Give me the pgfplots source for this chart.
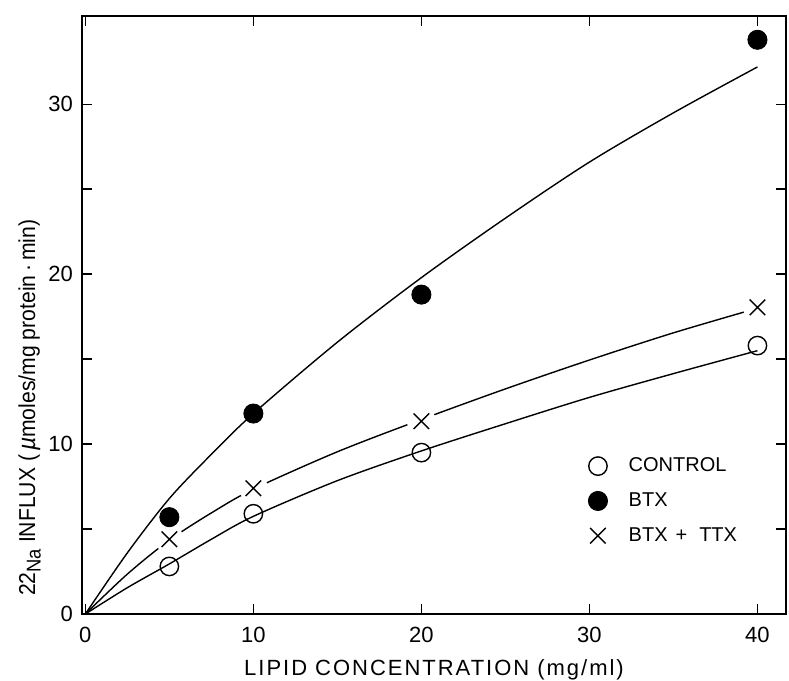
\documentclass[border=0pt]{standalone}
\usepackage{fontspec}
\setmainfont{Liberation Sans}
\newfontfamily\spaced[LetterSpace=9]{Liberation Sans}
\newfontfamily\narrow[FakeStretch=0.92]{Liberation Sans}
\usepackage{pgfplots}
\pgfplotsset{compat=1.18}
\usetikzlibrary{calc}

% measured points
\pgfplotstableread{
x   y
5   2.8
10  5.9
20  9.5
40  15.8
}\control
\pgfplotstableread{
x   y
5   5.7
10  11.8
20  18.8
40  33.8
}\btx
\pgfplotstableread{
x   y
5   4.4
10  7.4
20  11.35
40  18.05
}\btxttx

% fitted curves
\pgfplotstableread{
x    y
0    0
2.5  1.55
5    2.95
7.5  4.4
10   5.75
15   7.85
20   9.6
25   11.2
30   12.75
35   14.15
40   15.5
}\controlfit
\pgfplotstableread{
x    y
0    0
2.5  3.6
5    6.8
7.5  9.4
10   11.8
15   16.0
20   19.8
25   23.3
30   26.6
35   29.5
40   32.2
}\btxfit
\pgfplotstableread{
x    y
0    0
2.5  2.35
5    4.35
7.5  5.95
10   7.35
15   9.55
20   11.45
25   13.25
30   14.95
35   16.55
40   18.0
}\btxttxfit

\begin{document}
\begin{tikzpicture}
\begin{axis}[
  width=352pt, height=299pt, scale only axis,
  xmin=-0.2, xmax=41.7, ymin=0, ymax=35.2,
  xtick={0,10,20,30,40}, ytick={0,10,20,30},
  minor ytick={5,15,25},
  tick align=inside, tick pos=both,
  xticklabel pos=lower, yticklabel pos=left,
  major tick length=5pt, minor tick length=5pt,
  every tick/.style={black, line width=0.8pt},
  axis line style={line width=0.9pt},
  /pgf/number format/assume math mode=true,
  ticklabel style={font=\fontsize{11}{13}\selectfont},
  xticklabel style={yshift=-3pt},
  yticklabel style={xshift=-1pt},
  xlabel={\spaced\fontsize{11}{13}\selectfont LIPID CONCENTRATION (mg/ml)},
  ylabel={\narrow\fontsize{11.5}{13}\selectfont 22\raisebox{-0.45ex}{\fontsize{10}{11}\selectfont Na} INFLUX (\,{\fontsize{12.5}{13}\selectfont\itshape µ}moles/mg protein\,·\,min)},
  xlabel style={yshift=-1.5pt},
  ylabel style={at={(ticklabel cs:0.345)}, yshift=-3pt},
  legend style={at={(axis cs:29.28,9.7)}, anchor=north west, draw=none, fill=none,
    font=\fontsize{10}{12}\selectfont, row sep=5pt,
    cells={anchor=west}},
  legend cell align=left,
  legend image code/.code={\path[draw=none] (0,0) -- (0.72cm,0);\draw[#1] (0.25cm,0cm) plot coordinates {(0.25cm,0cm)};},
]
\coordinate (bl) at (rel axis cs:0,0);
\coordinate (tr) at (rel axis cs:1,1);
% fitted curves
\addplot[black, line width=0.7pt, smooth, forget plot] table {\controlfit};
\addplot[black, line width=0.7pt, smooth, forget plot] table {\btxfit};
\addplot[black, line width=0.7pt, smooth, forget plot] table {\btxttxfit};
% white gaps around the crosses
\addplot[white, only marks, mark=*, mark size=7pt, mark options={fill=white, draw=white}, forget plot] table {\btxttx};
% data points
\addplot[only marks, mark=o, mark size=4.6pt, mark options={fill=white, line width=0.7pt}] table {\control};
\addlegendentry{CONTROL}
\addplot[only marks, mark=*, mark size=4.8pt, mark options={fill=black}] table {\btx};
\addlegendentry{BTX}
\addplot[only marks, mark=x, mark size=5.5pt, mark options={line width=0.7pt}] table {\btxttx};
\addlegendentry{BTX\hspace{4pt}+\hspace{6pt}TTX}
\end{axis}
\pgfresetboundingbox
\path[use as bounding box] ($(bl)+(-41pt,-33pt)$) rectangle ($(tr)+(1.5pt,8pt)$);
\end{tikzpicture}
\end{document}
